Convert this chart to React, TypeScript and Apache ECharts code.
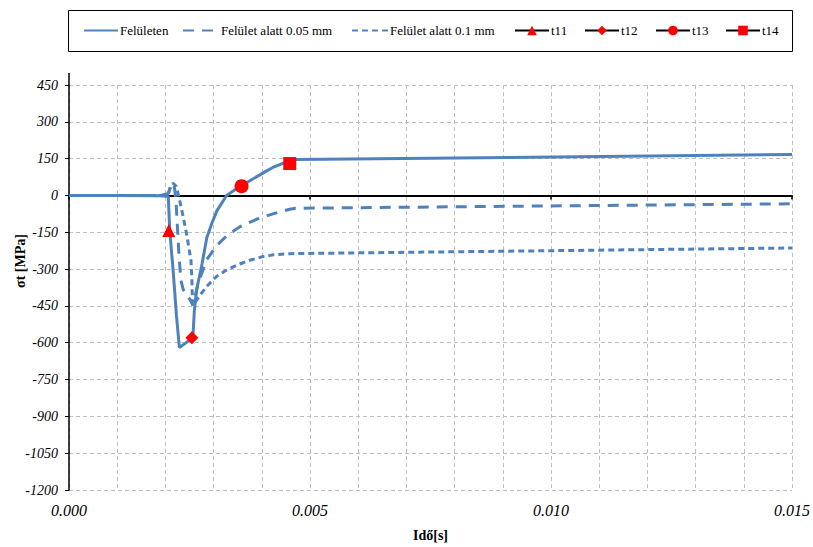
import React, { useEffect, useRef } from "react";
import * as echarts from "echarts";

// time [s], stress [MPa]
const surface: [number, number][] = [
  [0, 0], [0.001, 0], [0.0019, -1], [0.00206, -4], [0.00209, -143], [0.00216, -304],
  [0.00223, -491], [0.00229, -620], [0.00257, -580], [0.0026, -470], [0.00265, -382],
  [0.00276, -279], [0.00286, -171], [0.00297, -110], [0.00307, -62], [0.00327, 0],
  [0.00342, 20], [0.00358, 40], [0.00377, 62], [0.00396, 84], [0.0041, 100],
  [0.00423, 114], [0.0044, 128], [0.00458, 140], [0.0047, 146], [0.015, 167],
];

const below005: [number, number][] = [
  [0, 0], [0.0019, 0], [0.00206, 8], [0.00211, 38], [0.00216, 50], [0.00219, 30],
  [0.00222, -24], [0.00225, -130], [0.00228, -237], [0.00232, -344], [0.00237, -384],
  [0.00251, -424], [0.00257, -448], [0.00268, -358], [0.00285, -264], [0.00306, -205],
  [0.00327, -165], [0.00354, -128], [0.00389, -97], [0.00423, -75], [0.00458, -56],
  [0.0047, -52], [0.015, -34],
];

const below01: [number, number][] = [
  [0, 0], [0.0019, 0], [0.00206, 8], [0.00211, 38], [0.00216, 50], [0.00223, 36],
  [0.00233, -50], [0.00244, -157], [0.00253, -264], [0.00255, -344], [0.00256, -424],
  [0.00257, -448], [0.00275, -398], [0.00285, -372], [0.00306, -330], [0.00327, -304],
  [0.0035, -282], [0.00375, -264], [0.004, -250], [0.00423, -242], [0.00458, -237],
  [0.015, -214],
];

const t11: [number, number][] = [[0.00207, -143]];
const t12: [number, number][] = [[0.00255, -580]];
const t13: [number, number][] = [[0.00358, 38]];
const t14: [number, number][] = [[0.00458, 130]];

const seriesNames = [
  "Felületen",
  "Felület alatt 0.05 mm",
  "Felület alatt 0.1 mm",
  "t11",
  "t12",
  "t13",
  "t14",
];

const xTickLabels = ["0.000", "0.005", "0.010", "0.015"];

const BLUE = "#4F81BD";
const RED = "#FF0000";
const SERIF = "Liberation Serif";

// left edge of each legend entry (layout)
const legendLefts = [83, 182, 351, 514, 584, 655, 725];

export default function App() {
  const ref = useRef<HTMLDivElement>(null);

  useEffect(() => {
    document.body.style.margin = "0";
    if (!ref.current) return;
    const chart = echarts.init(ref.current, undefined, { renderer: "svg" });

    const lineSeries = (name: string, data: [number, number][], dash: any) => ({
      name,
      type: "line",
      data,
      symbol: "none",
      showSymbol: false,
      lineStyle: { color: BLUE, width: 3, type: dash, cap: "butt" },
      itemStyle: { color: BLUE },
      z: 3,
    });

    const markerSeries = (name: string, data: [number, number][], symbol: string, size: number) => ({
      name,
      type: "line",
      data,
      symbol,
      symbolSize: size,
      showSymbol: true,
      lineStyle: { color: "#000000", width: 1 },
      itemStyle: { color: RED },
      z: 5,
    });

    const legends = seriesNames.map((n, i) => ({
      data: [i < 3 ? { name: n, itemStyle: { opacity: 0 } } : { name: n }],
      left: legendLefts[i],
      top: 24,
      padding: 0,
      itemWidth: i === 1 || i === 2 ? 36 : 34,
      itemHeight: 12,
      selectedMode: false,
      textStyle: { fontFamily: SERIF, fontSize: 13, color: "#000000", padding: [0, 0, 0, -3] },
    }));

    chart.setOption({
      animation: false,
      backgroundColor: "#ffffff",
      grid: { left: 69, right: 20, top: 85, bottom: 51 },
      legend: legends,
      xAxis: [
        {
          type: "value",
          min: 0,
          max: 0.015,
          interval: 0.005,
          position: "bottom",
          name: "Idő[s]",
          nameLocation: "middle",
          nameGap: 38,
          nameTextStyle: { fontFamily: SERIF, fontSize: 14, fontWeight: "bold", color: "#000000" },
          axisLine: { show: false, onZero: false },
          axisTick: { show: false },
          axisLabel: {
            margin: 12,
            fontFamily: SERIF,
            fontSize: 16,
            fontStyle: "italic",
            color: "#000000",
            formatter: (v: number) => xTickLabels[Math.round(v / 0.005)] ?? "",
          },
          splitLine: { show: true, lineStyle: { color: "#BFBFBF", type: [4, 3], width: 1 } },
          minorTick: { show: false, splitNumber: 5 },
          minorSplitLine: { show: true, lineStyle: { color: "#BFBFBF", type: [4, 3], width: 1 } },
        },
        {
          type: "value",
          min: 0,
          max: 0.015,
          interval: 0.005,
          position: "top",
          axisLine: { show: true, onZero: true, lineStyle: { color: "#000000", width: 2 } },
          axisTick: { show: true, inside: true, length: 4, lineStyle: { color: "#000000", width: 1.5 } },
          axisLabel: { show: false },
          splitLine: { show: false },
        },
      ],
      yAxis: {
        type: "value",
        min: -1200,
        max: 450,
        interval: 150,
        axisLine: { show: true, onZero: false, lineStyle: { color: "#000000", width: 1.5 } },
        axisTick: { show: true, length: 4, lineStyle: { color: "#000000" } },
        axisLabel: {
          margin: 11,
          fontFamily: SERIF,
          fontSize: 14,
          fontStyle: "italic",
          color: "#000000",
          formatter: (v: number) => String(v),
        },
        splitLine: { show: true, lineStyle: { color: "#BFBFBF", type: [4, 3], width: 1 } },
      },
      graphic: [
        {
          type: "rect",
          shape: { x: 68.5, y: 10.5, width: 724, height: 41 },
          style: { fill: "none", stroke: "#000000", lineWidth: 1 },
          silent: true,
        },
        {
          type: "line",
          shape: { x1: 69, y1: 73, x2: 69, y2: 86 },
          style: { stroke: "#000000", lineWidth: 1.5 },
          silent: true,
        },
        {
          type: "text",
          x: 20,
          y: 261,
          rotation: Math.PI / 2,
          style: {
            text: "σt [MPa]",
            fontFamily: SERIF,
            fontSize: 14,
            fontWeight: "bold",
            fill: "#000000",
            align: "center",
            verticalAlign: "middle",
          },
          silent: true,
        },
      ],
      series: [
        lineSeries(seriesNames[0], surface, "solid"),
        lineSeries(seriesNames[1], below005, [11, 8]),
        lineSeries(seriesNames[2], below01, [6, 4]),
        markerSeries(seriesNames[3], t11, "triangle", 13),
        markerSeries(seriesNames[4], t12, "diamond", 13),
        markerSeries(seriesNames[5], t13, "circle", 14),
        markerSeries(seriesNames[6], t14, "rect", 13),
      ],
    });

    return () => chart.dispose();
  }, []);

  return <div ref={ref} style={{ width: 813, height: 547 }} />;
}
